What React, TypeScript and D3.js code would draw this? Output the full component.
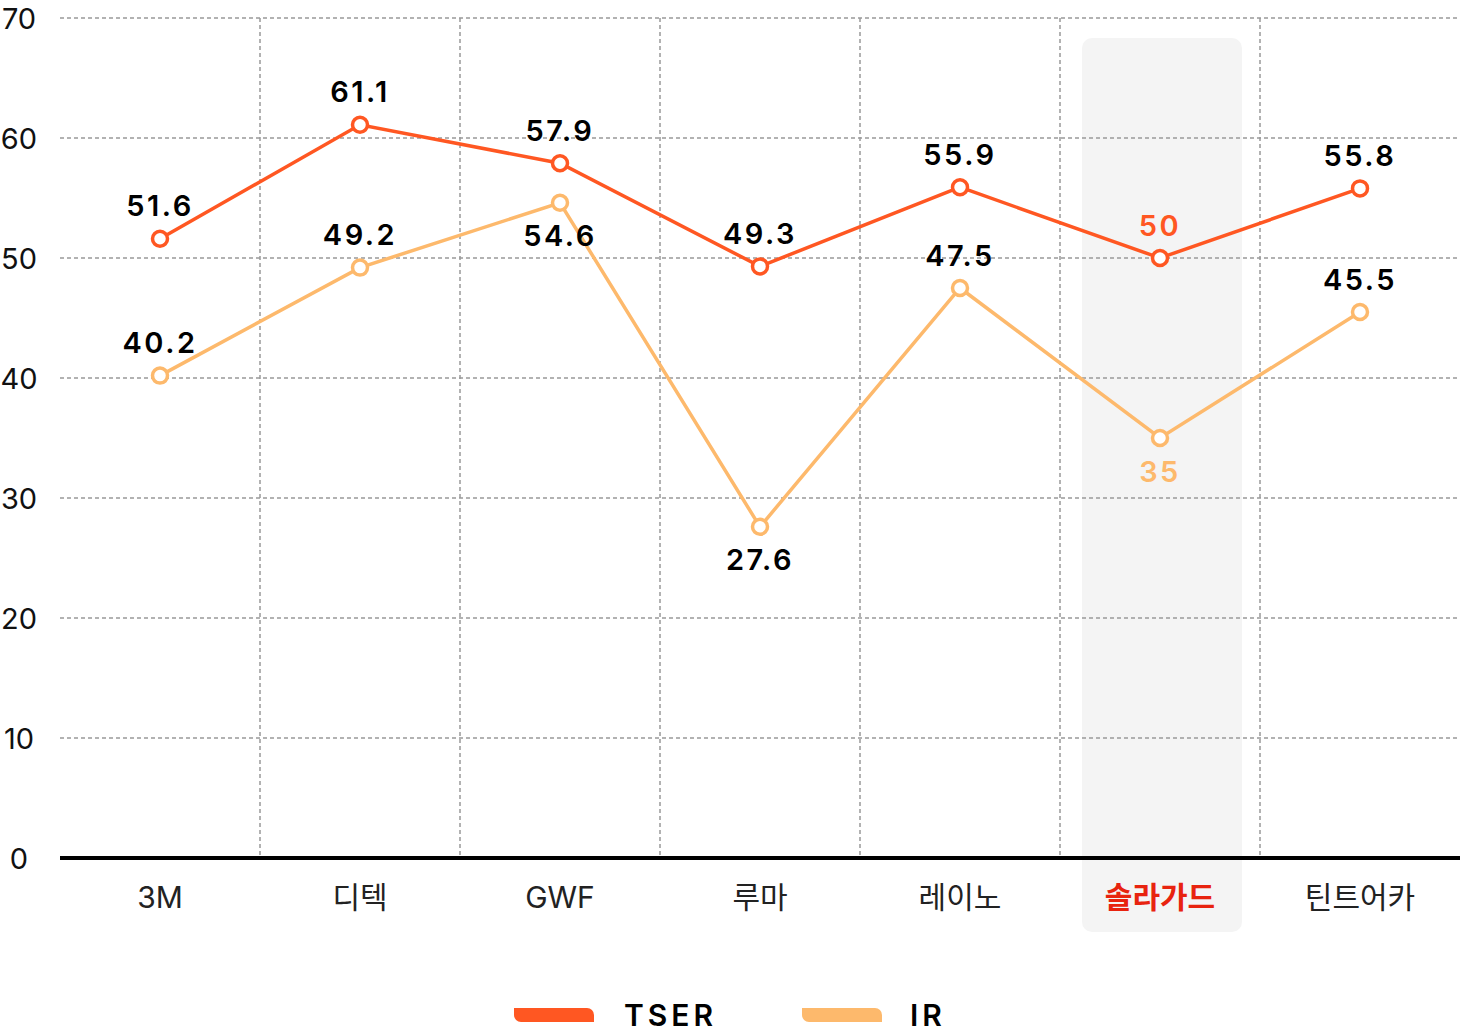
import { useEffect, useRef } from 'react';
import * as d3 from 'd3';

const categories = ['3M', '디텍', 'GWF', '루마', '레이노', '솔라가드', '틴트어카'];
const tserValues = [51.6, 61.1, 57.9, 49.3, 55.9, 50, 55.8];
const irValues = [40.2, 49.2, 54.6, 27.6, 47.5, 35, 45.5];
// label above (-1) or below (+1) the point
const irLabelSide = [-1, -1, 1, 1, -1, 1, -1];
const yTicks = [0, 10, 20, 30, 40, 50, 60, 70];
const highlight = '솔라가드';

const TSER_COLOR = '#FF5722';
const IR_COLOR = '#FDB96C';
const HIGHLIGHT_TEXT = '#E8230F';

export default function App() {
  const svgRef = useRef<SVGSVGElement>(null);
  const width = 1460;
  const height = 1036;

  useEffect(() => {
    if (!svgRef.current) return;
    const svg = d3.select(svgRef.current);
    svg.selectAll('*').remove();

    const margin = { top: 18, right: 0, bottom: 178, left: 60 };
    const innerWidth = width - margin.left - margin.right;
    const innerHeight = height - margin.top - margin.bottom;

    const g = svg.append('g')
      .attr('transform', `translate(${margin.left},${margin.top})`);

    const x = d3.scaleBand().domain(categories).range([0, innerWidth]).padding(0);
    const y = d3.scaleLinear().domain([0, 70]).range([innerHeight, 0]);
    const cx = (c: string) => (x(c) || 0) + x.bandwidth() / 2;

    // Highlight band
    g.append('rect')
      .attr('x', cx(highlight) - 78)
      .attr('y', 20)
      .attr('width', 160)
      .attr('height', innerHeight + 54)
      .attr('rx', 10)
      .attr('fill', '#F4F4F4');

    // Horizontal grid
    g.selectAll('.hgrid')
      .data(yTicks.filter(t => t > 0))
      .enter()
      .append('line')
      .attr('x1', 0)
      .attr('x2', innerWidth)
      .attr('y1', d => y(d))
      .attr('y2', d => y(d))
      .attr('stroke', '#999')
      .attr('stroke-width', 1.5)
      .attr('stroke-dasharray', '4,3');

    // Vertical grid between categories
    g.selectAll('.vgrid')
      .data(categories.slice(1))
      .enter()
      .append('line')
      .attr('x1', d => x(d) || 0)
      .attr('x2', d => x(d) || 0)
      .attr('y1', 0)
      .attr('y2', innerHeight)
      .attr('stroke', '#999')
      .attr('stroke-width', 1.5)
      .attr('stroke-dasharray', '4,3');

    // Baseline
    g.append('line')
      .attr('x1', 0)
      .attr('x2', innerWidth)
      .attr('y1', y(0))
      .attr('y2', y(0))
      .attr('stroke', '#000')
      .attr('stroke-width', 4);

    // Y tick labels
    g.selectAll('.ytick')
      .data(yTicks)
      .enter()
      .append('text')
      .attr('x', -41)
      .attr('y', d => y(d))
      .attr('text-anchor', 'middle')
      .attr('dominant-baseline', 'central')
      .style('font-family', 'Inter, "Noto Sans", sans-serif')
      .style('font-size', '29px')
      .style('fill', '#111')
      .text(d => d);

    // X labels
    g.selectAll('.xlabel')
      .data(categories)
      .enter()
      .append('text')
      .attr('x', d => cx(d))
      .attr('y', innerHeight + 39)
      .attr('text-anchor', 'middle')
      .attr('dominant-baseline', 'central')
      .style('font-family', 'Inter, "Noto Sans CJK KR", sans-serif')
      .style('font-size', '30px')
      .style('font-weight', d => (d === highlight ? 700 : 400))
      .style('fill', d => (d === highlight ? HIGHLIGHT_TEXT : '#222'))
      .text(d => d);

    const series = [
      { name: 'TSER', values: tserValues, color: TSER_COLOR, side: tserValues.map(() => -1) },
      { name: 'IR', values: irValues, color: IR_COLOR, side: irLabelSide },
    ];

    const line = d3.line<number>()
      .x((_, i) => cx(categories[i]))
      .y(d => y(d));

    // draw IR first so TSER sits on top
    [...series].reverse().forEach(s => {
      g.append('path')
        .datum(s.values)
        .attr('d', line)
        .attr('fill', 'none')
        .attr('stroke', s.color)
        .attr('stroke-width', 3.5);

      g.selectAll(`.pt-${s.name}`)
        .data(s.values)
        .enter()
        .append('circle')
        .attr('cx', (_, i) => cx(categories[i]))
        .attr('cy', d => y(d))
        .attr('r', 7.5)
        .attr('fill', '#fff')
        .attr('stroke', s.color)
        .attr('stroke-width', 3.5);
    });

    series.forEach(s => {
      g.selectAll(`.lbl-${s.name}`)
        .data(s.values)
        .enter()
        .append('text')
        .attr('x', (_, i) => cx(categories[i]))
        .attr('y', (d, i) => y(d) + s.side[i] * 33)
        .attr('text-anchor', 'middle')
        .attr('dominant-baseline', 'central')
        .style('font-family', 'Inter, "DejaVu Sans", sans-serif')
        .style('font-size', '29px')
        .style('font-weight', 600)
        .style('letter-spacing', '2.5px')
        .style('fill', (_, i) => (categories[i] === highlight ? s.color : '#000'))
        .text(d => d);
    });

    // Legend
    const legend = svg.append('g').attr('transform', 'translate(0,1015)');
    const legendItems = [
      { name: 'TSER', color: TSER_COLOR, x: 514, tx: 624 },
      { name: 'IR', color: IR_COLOR, x: 802, tx: 910 },
    ];
    legendItems.forEach(item => {
      const w = 80, h = 14, r = 7;
      const x0 = item.x, y0 = -7;
      legend.append('path')
        .attr('d', `M${x0},${y0} H${x0 + w - r} A${r},${r} 0 0 1 ${x0 + w},${y0 + r} V${y0 + h} H${x0 + r} A${r},${r} 0 0 1 ${x0},${y0 + h - r} Z`)
        .attr('fill', item.color);
      legend.append('text')
        .attr('x', item.tx)
        .attr('y', 0)
        .attr('dominant-baseline', 'central')
        .style('font-family', 'Inter, "DejaVu Sans", sans-serif')
        .style('font-size', '30px')
        .style('font-weight', 600)
        .style('letter-spacing', '4px')
        .style('fill', '#000')
        .text(item.name);
    });
  }, []);

  return (
    <svg
      ref={svgRef}
      width={width}
      height={height}
      style={{ position: 'absolute', left: 0, top: 0, background: '#fff' }}
    />
  );
}
